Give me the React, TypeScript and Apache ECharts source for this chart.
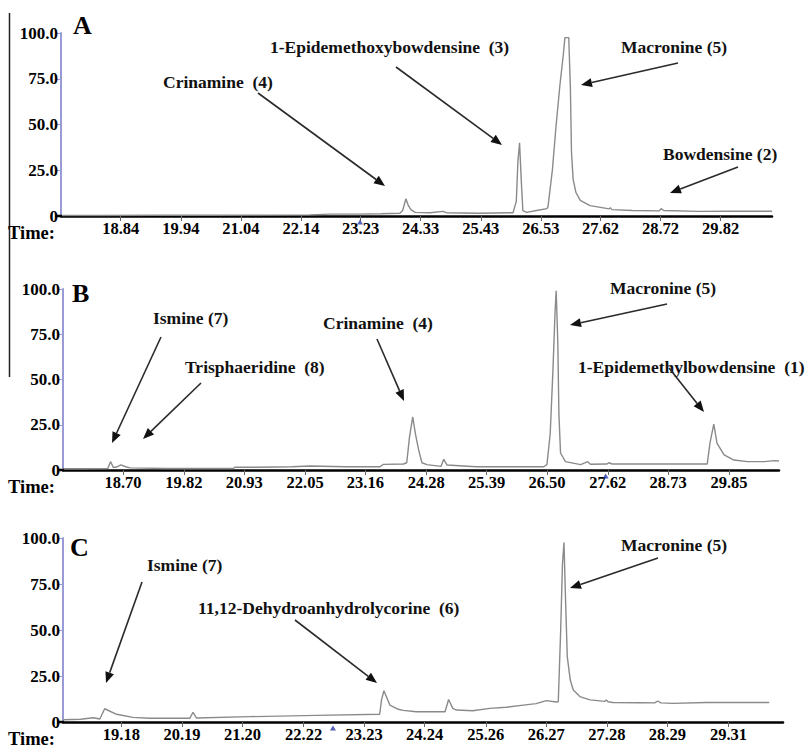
import React, { useEffect, useRef } from "react";
import * as echarts from "echarts";

// ---- Panel A ----
const timeA = [17.75, 18.5, 19.5, 20.5, 21.5, 22.3, 22.67, 23.2, 23.6, 23.95, 24.0, 24.06, 24.1, 24.15, 24.23, 24.5, 24.74, 24.8, 25.4, 26.02, 26.08, 26.11, 26.14, 26.17, 26.2, 26.27, 26.45, 26.64, 26.66, 26.74, 26.81, 26.88, 26.94, 26.97, 27.04, 27.07, 27.09, 27.12, 27.17, 27.25, 27.43, 27.78, 27.8, 27.83, 28.2, 28.7, 28.73, 28.78, 29.4, 30.0, 30.76];
const valuesA = [0.3, 0.3, 0.4, 0.4, 0.5, 0.6, 1.0, 1.0, 1.2, 1.5, 3, 9.4, 6, 3.5, 2, 1.8, 2.5, 1.8, 1.5, 1.8, 8, 30, 40, 20, 3, 2, 3, 4, 5, 25, 50, 72, 88, 97.5, 97.5, 70, 35, 20, 13, 8.5, 5.7, 3.9, 4.6, 3.5, 3.0, 2.8, 4, 3, 2.5, 2.6, 2.6];
const ticksA = [18.84, 19.94, 21.04, 22.14, 23.23, 24.33, 25.43, 26.53, 27.62, 28.72, 29.82];
const rangeA = [17.747, 30.76];
const markerA = [23.22];

// ---- Panel B ----
const timeB = [17.6, 18.0, 18.42, 18.47, 18.52, 18.57, 18.66, 18.75, 18.83, 19.5, 20.73, 20.76, 21.16, 21.8, 22.14, 22.8, 23.43, 23.49, 23.86, 23.92, 23.97, 24.03, 24.08, 24.14, 24.2, 24.29, 24.55, 24.6, 24.66, 25.2, 26.0, 26.44, 26.5, 26.56, 26.61, 26.65, 26.67, 26.7, 26.72, 26.75, 26.84, 27.12, 27.25, 27.3, 27.6, 27.64, 27.7, 28.41, 29.0, 29.45, 29.5, 29.57, 29.63, 29.76, 29.94, 30.19, 30.5, 30.68, 30.77];
const valuesB = [0.7, 0.7, 0.8, 4.6, 1.5, 1.5, 2.8, 1.8, 1.2, 0.8, 0.8, 1.5, 1.5, 1.8, 2.2, 1.8, 1.8, 3.1, 3.3, 4, 18, 29.4, 20, 11, 4, 3, 2, 5.9, 2.8, 1.8, 1.8, 1.8, 3, 20, 55, 88, 99, 70, 31, 9.4, 4.6, 3, 4.6, 3.2, 3.3, 4, 3.3, 3.3, 3.3, 3.3, 15, 25.4, 14.7, 8.3, 5.5, 4.6, 4.6, 5.2, 5.0];
const ticksB = [18.7, 19.82, 20.93, 22.05, 23.16, 24.28, 25.39, 26.5, 27.62, 28.73, 29.85];
const rangeB = [17.595, 30.77];
const markerB = [27.58];

// ---- Panel C ----
const timeC = [18.21, 18.5, 18.71, 18.82, 18.9, 19.1, 19.37, 19.65, 20.32, 20.375, 20.43, 21.32, 22.44, 23.49, 23.52, 23.56, 23.66, 23.8, 23.88, 24.1, 24.58, 24.64, 24.71, 24.77, 25.04, 25.33, 25.6, 25.89, 26.1, 26.27, 26.44, 26.47, 26.51, 26.54, 26.565, 26.59, 26.62, 26.67, 26.72, 26.83, 27.0, 27.25, 27.27, 27.3, 27.38, 27.83, 28.08, 28.13, 28.18, 28.38, 28.94, 29.99];
const valuesC = [1.2, 1.5, 2.3, 1.6, 7.2, 4.2, 2.5, 2.0, 2.0, 5.3, 2.2, 2.9, 3.6, 4.2, 12, 17, 9.2, 6.9, 6.3, 5.6, 5.6, 12.2, 7.4, 6.5, 6.1, 7.4, 8, 9.2, 10, 11.6, 10.9, 11, 50, 86, 97.5, 68, 35.5, 22.8, 17.4, 13.8, 12, 11.2, 12, 11, 10.6, 10.5, 10.4, 11.4, 10.4, 10.1, 10.6, 10.6];
const ticksC = [19.18, 20.19, 21.2, 22.22, 23.23, 24.24, 25.26, 26.27, 27.28, 28.29, 29.31];
const rangeC = [18.205, 30.22];
const markerC = [22.71];

const yTicks = [0, 25, 50, 75, 100];

const panelLetters = ["A", "B", "C"];

const FAMILY = "Liberation Serif";

export default function App() {
  const ref = useRef<HTMLDivElement>(null);

  useEffect(() => {
    if (!ref.current) return;
    const chart = echarts.init(ref.current, undefined, { renderer: "svg" });

    const panels = [
      { t: timeA, v: valuesA, ticks: ticksA, range: rangeA, marker: markerA, grid: { left: 61, right: 40, top: 33, height: 183 } },
      { t: timeB, v: valuesB, ticks: ticksB, range: rangeB, marker: markerB, grid: { left: 63, right: 33, top: 289, height: 181 } },
      { t: timeC, v: valuesC, ticks: ticksC, range: rangeC, marker: markerC, grid: { left: 63, right: 29, top: 538, height: 184 } },
    ];

    const labelStyle = { fontFamily: FAMILY, fontWeight: "bold" as const, fontSize: 16.5, color: "#000" };

    const grids = panels.map((p) => ({ ...p.grid, containLabel: false }));
    const xAxes = panels.map((p, i) => ({
      type: "value" as const,
      gridIndex: i,
      min: p.range[0],
      max: p.range[1],
      axisLine: { show: true, onZero: false, lineStyle: { color: "#000", width: 2.5 } },
      axisTick: { show: true, customValues: p.ticks, length: 5, lineStyle: { color: "#666", width: 1 } },
      axisLabel: { show: true, customValues: p.ticks, formatter: (val: number) => val.toFixed(2), margin: 4, ...labelStyle },
      splitLine: { show: false },
    }));
    const yAxes = panels.map((_, i) => ({
      type: "value" as const,
      gridIndex: i,
      min: yTicks[0],
      max: yTicks[yTicks.length - 1],
      interval: 25,
      axisLine: { show: true, lineStyle: { color: "#9a9ad6", width: 2 } },
      axisTick: { show: true, length: 4, lineStyle: { color: "#9a9ad6", width: 1 } },
      axisLabel: {
        margin: 3,
        formatter: (val: number) => (val === 0 ? "0" : val.toFixed(1)),
        ...labelStyle,
        fontSize: 17,
        lineHeight: 14,
      },
      splitLine: { show: false },
    }));

    const series: any[] = [];
    panels.forEach((p, i) => {
      series.push({
        type: "line",
        xAxisIndex: i,
        yAxisIndex: i,
        data: p.t.map((tt, k) => [tt, p.v[k]]),
        showSymbol: false,
        symbol: "none",
        lineStyle: { color: "#8a8a8a", width: 1.4 },
        z: 3,
      });
      series.push({
        type: "scatter",
        xAxisIndex: i,
        yAxisIndex: i,
        data: p.marker.map((m) => [m, 0]),
        symbol: "triangle",
        symbolSize: [6, 5],
        symbolOffset: [0, 6],
        itemStyle: { color: "#2b3aa8" },
        z: 4,
        clip: false,
      });
    });

    // ---- annotations (text + arrows) ----
    const annotations = [
      { text: "Crinamine  (4)", x: 163, y: 82 },
      { text: "1-Epidemethoxybowdensine  (3)", x: 270, y: 47 },
      { text: "Macronine (5)", x: 621, y: 47 },
      { text: "Bowdensine (2)", x: 663, y: 154 },
      { text: "Ismine (7)", x: 153, y: 318 },
      { text: "Trisphaeridine  (8)", x: 185, y: 367 },
      { text: "Crinamine  (4)", x: 323, y: 323 },
      { text: "Macronine (5)", x: 610, y: 288 },
      { text: "1-Epidemethylbowdensine  (1)", x: 578, y: 367 },
      { text: "Ismine (7)", x: 147, y: 565 },
      { text: "11,12-Dehydroanhydrolycorine  (6)", x: 198, y: 608 },
      { text: "Macronine (5)", x: 621, y: 545 },
    ];
    const arrows = [
      [258, 93, 385, 186],
      [396, 67, 502, 145],
      [678, 63, 581, 85],
      [738, 167, 670, 193],
      [161, 337, 112, 443],
      [201, 383, 143, 439],
      [377, 339, 404, 401],
      [667, 304, 570, 325],
      [669, 368, 704, 412],
      [142, 582, 106, 683],
      [295, 620, 377, 683],
      [658, 558, 570, 588],
    ];
    const letterPos = [
      { x: 73, y: 25 },
      { x: 72, y: 293 },
      { x: 70, y: 547 },
    ];
    const timePos = [233, 487, 739];
    const axisExt = [
      [55, 216, 62, 216],
      [58, 470, 64, 470],
      [57, 722, 64, 722],
    ];

    const graphics: any[] = [];
    annotations.forEach((a) => {
      graphics.push({
        type: "text",
        x: a.x,
        y: a.y,
        style: { text: a.text, fontFamily: FAMILY, fontWeight: "bold", fontSize: 17.5, fill: "#111", textAlign: "left", textVerticalAlign: "middle" },
        z: 10,
      });
    });
    arrows.forEach(([x1, y1, x2, y2]) => {
      const dx = x2 - x1;
      const dy = y2 - y1;
      const len = Math.sqrt(dx * dx + dy * dy);
      const ux = dx / len;
      const uy = dy / len;
      const hl = 11;
      const hw = 4.5;
      const bx = x2 - ux * hl;
      const by = y2 - uy * hl;
      graphics.push({
        type: "line",
        shape: { x1, y1, x2: bx, y2: by },
        style: { stroke: "#2a2a2a", lineWidth: 1.6 },
        z: 10,
      });
      graphics.push({
        type: "polygon",
        shape: {
          points: [
            [x2, y2],
            [bx - uy * hw, by + ux * hw],
            [bx + uy * hw, by - ux * hw],
          ],
        },
        style: { fill: "#111" },
        z: 10,
      });
    });
    letterPos.forEach((p, i) => {
      graphics.push({
        type: "text",
        x: p.x,
        y: p.y,
        style: { text: panelLetters[i], fontFamily: FAMILY, fontWeight: "bold", fontSize: 26, fill: "#000", textAlign: "left", textVerticalAlign: "middle" },
        z: 10,
      });
    });
    timePos.forEach((y) => {
      graphics.push({
        type: "text",
        x: 8,
        y,
        style: { text: "Time:", fontFamily: FAMILY, fontWeight: "bold", fontSize: 18.5, fill: "#000", textAlign: "left", textVerticalAlign: "middle" },
        z: 10,
      });
    });
    axisExt.forEach(([x1, y1, x2, y2]) => {
      graphics.push({ type: "line", shape: { x1, y1, x2, y2 }, style: { stroke: "#000", lineWidth: 2.5 }, z: 5 });
    });
    graphics.push({ type: "line", shape: { x1: 9.5, y1: 13, x2: 9.5, y2: 377 }, style: { stroke: "#222", lineWidth: 1.5 }, z: 5 });

    chart.setOption({
      animation: false,
      backgroundColor: "#fff",
      grid: grids,
      xAxis: xAxes,
      yAxis: yAxes,
      series,
      graphic: graphics,
    });

    return () => chart.dispose();
  }, []);

  return <div ref={ref} style={{ position: "absolute", left: 0, top: 0, width: 812, height: 748 }} />;
}
